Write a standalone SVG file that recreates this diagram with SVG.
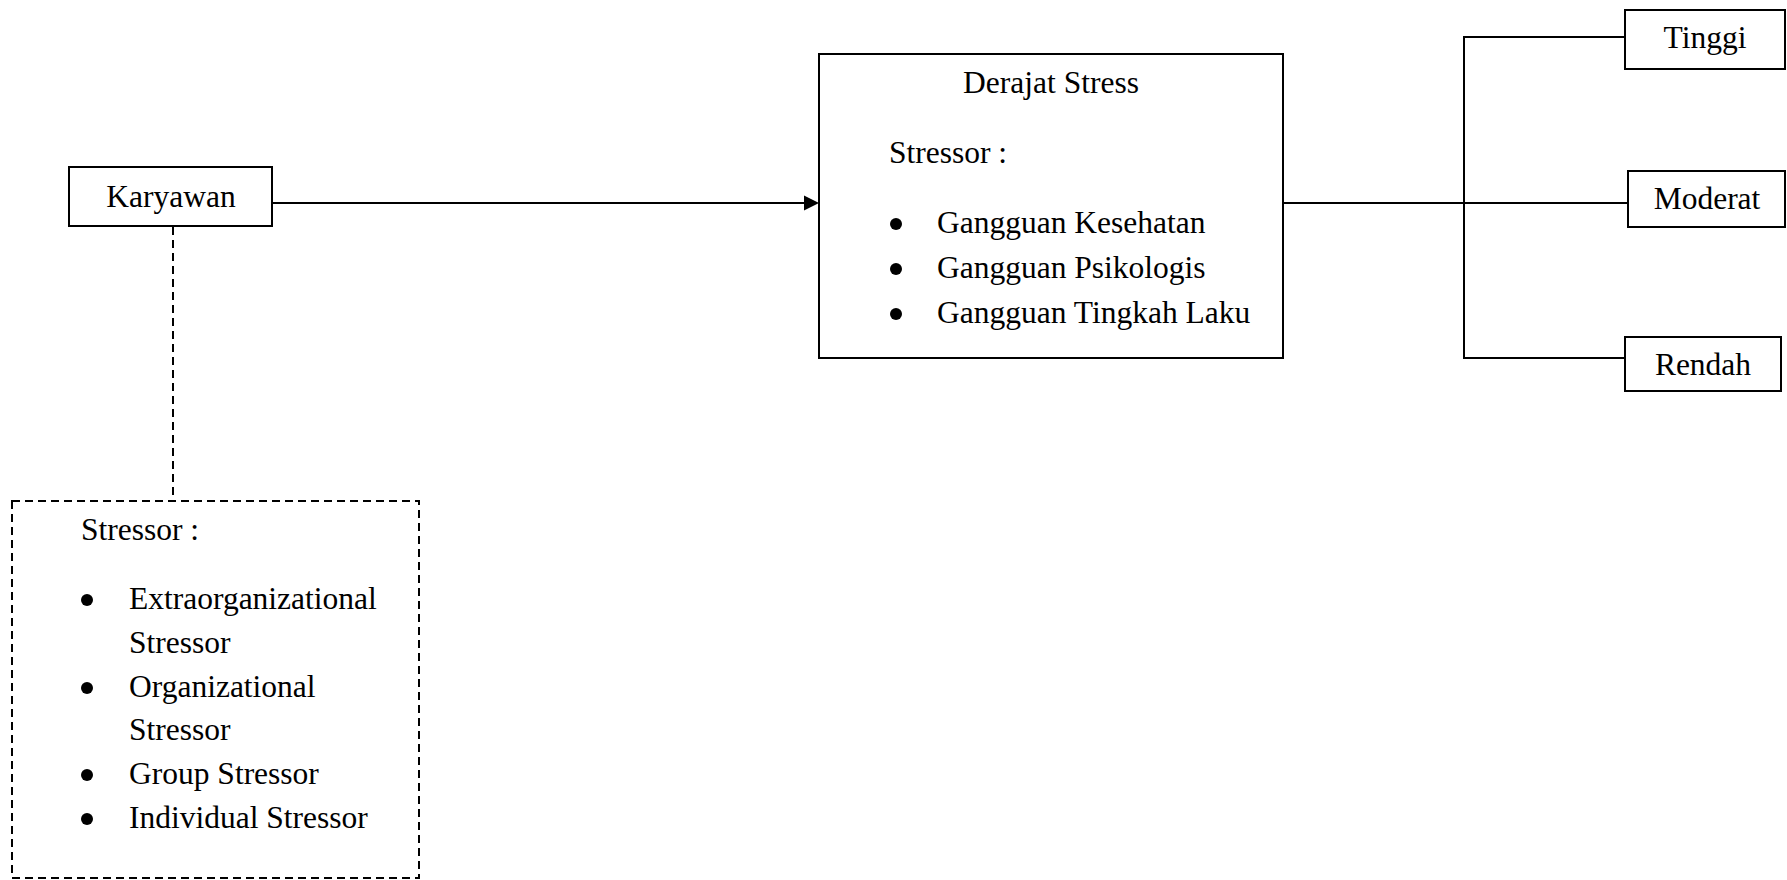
<svg xmlns="http://www.w3.org/2000/svg" width="1787" height="880" viewBox="0 0 1787 880">
<style>
.box{fill:#fff;stroke:#000;stroke-width:2}
.dash{fill:none;stroke:#000;stroke-width:2;stroke-dasharray:8 5}
.ln{fill:none;stroke:#000;stroke-width:2}
.blt{fill:#000}
text{font-family:"Liberation Serif","Times New Roman",serif;font-size:31.5px;fill:#000}
.c{text-anchor:middle}
</style>
<rect width="1787" height="880" fill="#fff"/>
<g id="connectors">
<line class="ln" x1="272" y1="203" x2="804" y2="203"/>
<path d="M804,195.5 L819,203 L804,210.5 Z" fill="#000"/>
<line class="dash" x1="173" y1="227" x2="173" y2="501"/>
<line class="ln" x1="1283" y1="203" x2="1628" y2="203"/>
<polyline class="ln" points="1625,37 1464,37 1464,358 1625,358"/>
</g>
<g id="karyawan">
<rect class="box" x="69" y="167" width="203" height="59"/>
<text class="c" x="171" y="207">Karyawan</text>
</g>
<g id="derajat-stress">
<rect class="box" x="819" y="54" width="464" height="304"/>
<text class="c" x="1051" y="93">Derajat Stress</text>
<text x="889" y="163">Stressor :</text>
<circle class="blt" cx="896" cy="224" r="6"/>
<text x="937" y="233">Gangguan Kesehatan</text>
<circle class="blt" cx="896" cy="269" r="6"/>
<text x="937" y="278">Gangguan Psikologis</text>
<circle class="blt" cx="896" cy="314" r="6"/>
<text x="937" y="323">Gangguan Tingkah Laku</text>
</g>
<g id="tinggi">
<rect class="box" x="1625" y="10" width="160" height="59"/>
<text class="c" x="1705" y="48">Tinggi</text>
</g>
<g id="moderat">
<rect class="box" x="1628" y="171" width="157" height="56"/>
<text class="c" x="1707" y="209">Moderat</text>
</g>
<g id="rendah">
<rect class="box" x="1625" y="337" width="156" height="54"/>
<text class="c" x="1703" y="375">Rendah</text>
</g>
<g id="stressor-list">
<rect class="dash" x="12" y="501" width="407" height="377"/>
<text x="81" y="540">Stressor :</text>
<circle class="blt" cx="87" cy="600" r="6"/>
<text x="129" y="609">Extraorganizational</text>
<text x="129" y="653">Stressor</text>
<circle class="blt" cx="87" cy="688" r="6"/>
<text x="129" y="697">Organizational</text>
<text x="129" y="740">Stressor</text>
<circle class="blt" cx="87" cy="775" r="6"/>
<text x="129" y="784">Group Stressor</text>
<circle class="blt" cx="87" cy="819" r="6"/>
<text x="129" y="828">Individual Stressor</text>
</g>
</svg>
